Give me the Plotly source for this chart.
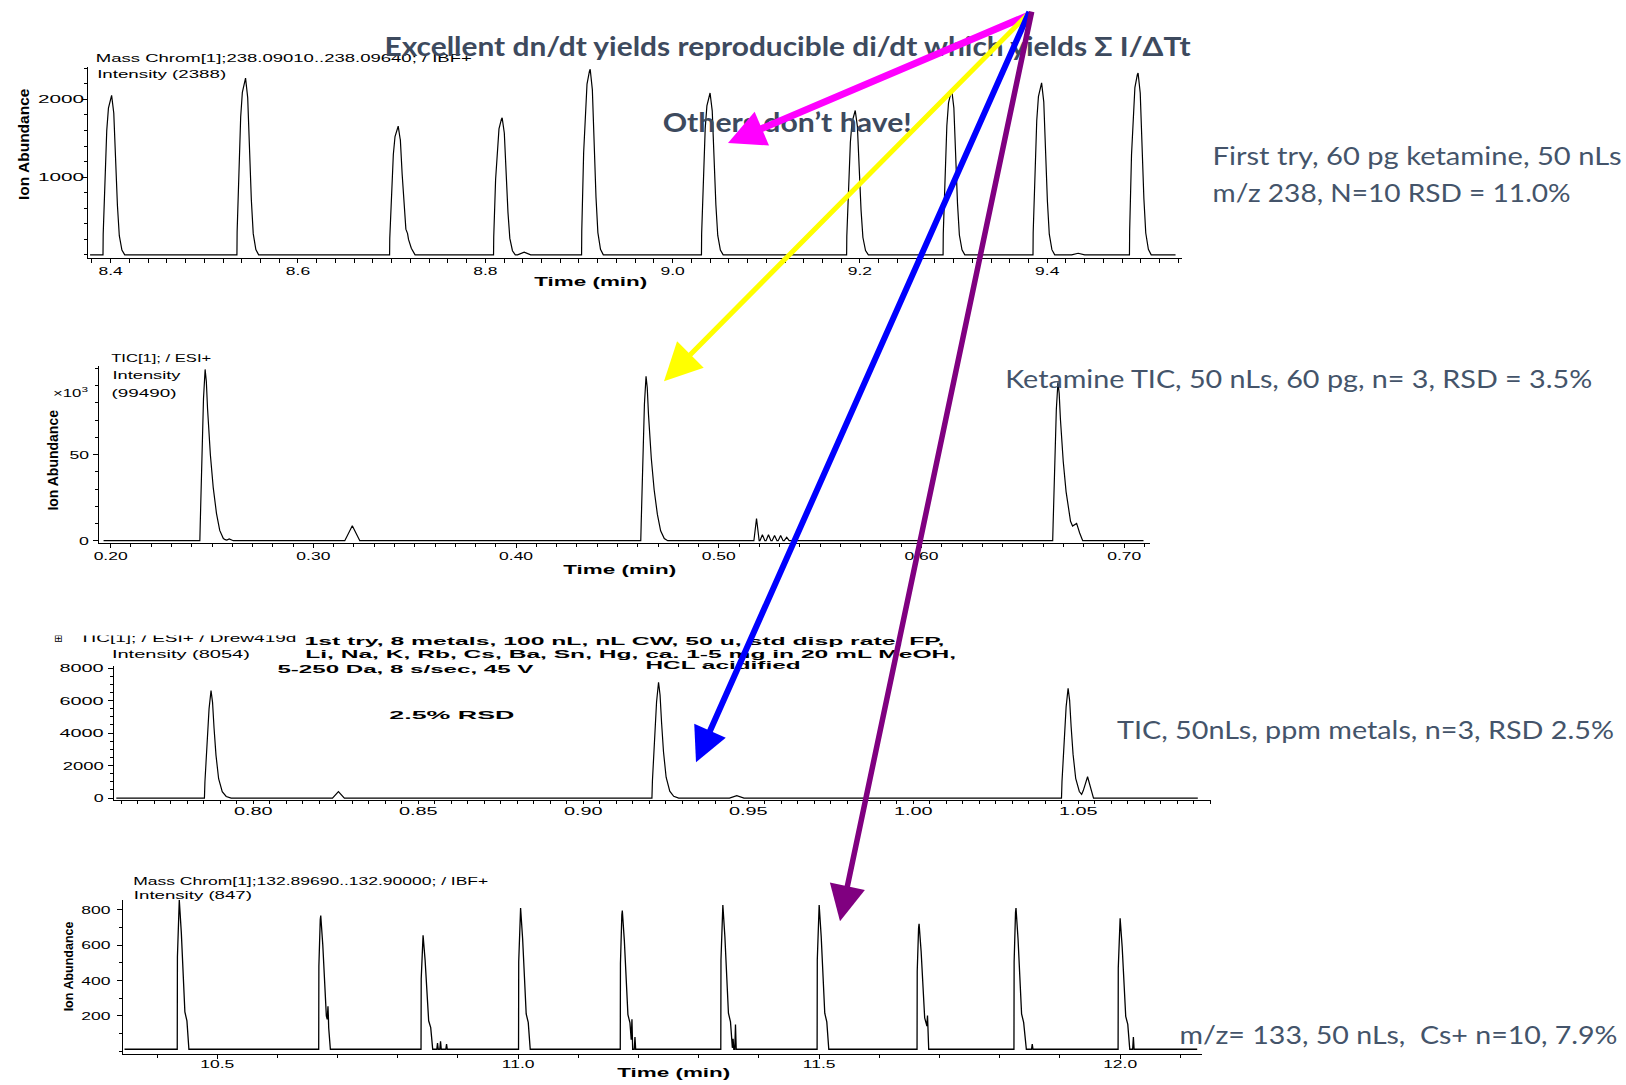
import json
import numpy as np
import plotly.graph_objects as go

W_PX, H_PX = 1626, 1085

# ------------------------------------------------------------------ data
# Panel 1 - Mass Chrom m/z 238 (ketamine), 10 injections
p1_peak_time = [8.401, 8.544, 8.707, 8.818, 8.912, 9.040, 9.195, 9.298, 9.394, 9.497]
p1_peak_height = [2051, 2273, 1655, 1762, 2388, 2082, 1857, 2125, 2212, 2340]
p1_shape_dt = [-0.0092, -0.0090, -0.0070, -0.0052, -0.0034, -0.0008, 0.0,
               0.0023, 0.0042, 0.0062, 0.0082, 0.0110, 0.0140]
p1_shape_frac = [0.0, 0.13, 0.55, 0.78, 0.92, 0.99, 1.0, 0.89, 0.60, 0.31, 0.12, 0.03, 0.0]
p1_bump_time = [8.717, 8.8415, 9.433]
p1_bump_height = [170, 35, 20]
p1_bump_halfwidth = [0.008, 0.007, 0.007]
p1_span = [8.378, 9.537]
p1_yticks = [1000, 2000]
p1_yticktext = ["1000\u200b", "2000\u200b"]

# Panel 2 - Ketamine TIC (x10^3)
p2_peak_time = [0.2466, 0.4641, 0.6673]
p2_peak_height = [99.49, 95.5, 92.0]
p2_shape_dt = [-0.0026, -0.0024, -0.0016, -0.0008, 0.0, 0.0006, 0.0012,
               0.0026, 0.0040, 0.0056, 0.0072, 0.0090, 0.0107]
p2_shape_frac = [0.0, 0.10, 0.55, 0.83, 1.0, 0.93, 0.77, 0.50, 0.31, 0.16, 0.06, 0.013, 0.0]
p2_bump_time = [0.2585, 0.3192, 0.5186, 0.5215, 0.5245, 0.5275, 0.5305, 0.5335, 0.6765]
p2_bump_height = [1.0, 8.65, 12.9, 3.5, 3.5, 3.0, 3.0, 2.0, 9.0]
p2_bump_halfwidth = [0.002, 0.0037, 0.0013, 0.0012, 0.0012, 0.0012, 0.0012, 0.0012, 0.003]
p2_span = [0.1965, 0.7095]
p2_yticks = [0, 50]

# Panel 3 - TIC, ppm metals
p3_peak_time = [0.7872, 0.9228, 1.0469]
p3_peak_height = [6614, 7127, 6760]
p3_shape_dt = [-0.0020, -0.00185, -0.0012, -0.0006, 0.0, 0.00046, 0.00092,
               0.0015, 0.0023, 0.0034, 0.0046, 0.0061]
p3_shape_frac = [0.0, 0.15, 0.49, 0.83, 1.0, 0.89, 0.65, 0.40, 0.18, 0.06, 0.015, 0.0]
p3_bump_time = [0.8258, 0.9465, 1.0528]
p3_bump_height = [400, 150, 1300]
p3_bump_halfwidth = [0.0018, 0.0022, 0.0018]
p3_span = [0.7585, 1.0862]
p3_yticks = [0, 2000, 4000, 6000, 8000]

# Panel 4 - Mass Chrom m/z 133 (Cs+), 10 injections
p4_peak_time = [10.437, 10.672, 10.842, 11.004, 11.173, 11.340, 11.500, 11.666, 11.827, 12.000]
p4_peak_height = [846, 758, 646, 801, 786, 818, 818, 711, 801, 743]
p4_shape_dt = [-0.0034, -0.0031, -0.0008, 0.0, 0.0034, 0.0068, 0.0093, 0.0127, 0.0160]
p4_shape_frac = [0.0, 0.62, 0.97, 1.0, 0.78, 0.44, 0.25, 0.19, 0.0]
p4_spike_time = [10.684, 10.866, 10.871, 10.881, 11.189, 11.194, 11.357, 11.361,
                 11.680, 11.843, 11.854, 12.022]
p4_spike_height = [90, 35, 45, 30, 170, 70, 60, 140, 110, 40, 30, 70]
p4_spike_halfwidth = [0.0012] * 12
p4_baseline = 10
p4_span = [10.346, 12.128]
p4_yticks = [200, 400, 600, 800]


def build_trace(span, peak_t, peak_h, shape_dt, shape_frac, bump_t, bump_h, bump_w, base=0.0):
    feats = []
    for t0, h0 in zip(peak_t, peak_h):
        feats.append((np.array(shape_dt) + t0, np.array(shape_frac) * h0))
    for tb, hb, wb in zip(bump_t, bump_h, bump_w):
        feats.append((np.array([tb - wb, tb, tb + wb]), np.array([0.0, hb, 0.0])))
    grid = np.unique(np.concatenate([np.array(span)] + [f[0] for f in feats]))
    grid = grid[(grid >= span[0]) & (grid <= span[1])]
    y = np.full(grid.shape, float(base))
    for ft, fh in feats:
        y += np.interp(grid, ft, fh, left=0.0, right=0.0)
    return grid, y


x1, y1 = build_trace(p1_span, p1_peak_time, p1_peak_height, p1_shape_dt, p1_shape_frac,
                     p1_bump_time, p1_bump_height, p1_bump_halfwidth)
x2, y2 = build_trace(p2_span, p2_peak_time, p2_peak_height, p2_shape_dt, p2_shape_frac,
                     p2_bump_time, p2_bump_height, p2_bump_halfwidth)
x3, y3 = build_trace(p3_span, p3_peak_time, p3_peak_height, p3_shape_dt, p3_shape_frac,
                     p3_bump_time, p3_bump_height, p3_bump_halfwidth)
x4, y4 = build_trace(p4_span, p4_peak_time, p4_peak_height, p4_shape_dt, p4_shape_frac,
                     p4_spike_time, p4_spike_height, p4_spike_halfwidth, base=p4_baseline)

# ------------------------------------------------------------------ figure
CH = "Liberation Sans"
SL = "Lato"
SLIDE_DARK = "#3D4A5E"
SLIDE_TEXT = "#44546A"


def fx(px):
    return px / W_PX


def fy(py):
    return 1 - py / H_PX


fig = go.Figure()
for i, (xx, yy, lw) in enumerate([(x1, y1, 1.2), (x2, y2, 1.2), (x3, y3, 1.2), (x4, y4, 1.3)]):
    sfx = "" if i == 0 else str(i + 1)
    fig.add_trace(go.Scatter(x=xx, y=yy, mode="lines", line=dict(color="black", width=lw),
                             xaxis="x" + sfx, yaxis="y" + sfx, hoverinfo="skip", showlegend=False))

tickfont = dict(family=CH, size=11.5, color="black")


def xaxis(dom_px, rng, dtick, minor_dtick, anchor, fmt, standoff, tl=5, mtl=4):
    return dict(domain=[fx(dom_px[0]), fx(dom_px[1])], range=rng, anchor=anchor,
                showline=True, linecolor="black", linewidth=1, ticks="outside", ticklen=tl,
                tickwidth=1, tickcolor="black", tickmode="linear", tick0=0, dtick=dtick,
                tickformat=fmt, showgrid=False, zeroline=False, tickfont=tickfont,
                ticklabelstandoff=standoff, fixedrange=True,
                minor=dict(tickmode="linear", tick0=0, dtick=minor_dtick, ticks="outside",
                           ticklen=mtl, tickcolor="black", showgrid=False))


def yaxis(dom_py, rng, tickvals, minor_dtick, anchor, standoff, ticktext=None, tl=5, mtl=3):
    d = dict(domain=[fy(dom_py[0]), fy(dom_py[1])], range=rng, anchor=anchor,
             showline=True, linecolor="black", linewidth=1, ticks="outside", ticklen=tl,
             tickwidth=1, tickcolor="black", tickmode="array", tickvals=tickvals,
             tickformat="d", showgrid=False, zeroline=False, tickfont=tickfont,
             ticklabelstandoff=standoff, fixedrange=True,
             minor=dict(tickmode="linear", tick0=0, dtick=minor_dtick, ticks="outside",
                        ticklen=mtl, tickcolor="black", showgrid=False))
    if ticktext is not None:
        d["ticktext"] = ticktext
    return d


fig.update_layout(
    width=W_PX, height=H_PX, autosize=False,
    margin=dict(l=0, r=0, t=0, b=0, pad=0),
    paper_bgcolor="white", plot_bgcolor="white",
    font=dict(family=CH, size=11.5, color="black"),
    showlegend=False,
    xaxis=xaxis([88.3, 1182], [8.3761, 9.5439], 0.2, 0.02, "y", ".1f", -2, 4, 4),
    yaxis=yaxis([255.7, 63], [-38.3, 2422.7], p1_yticks, 200, "x", -4, p1_yticktext),
    xaxis2=xaxis([99.3, 1150], [0.1944, 0.7127], 0.1, 0.01, "y2", ".2f", -1, 4, 3),
    yaxis2=yaxis([542.7, 365], [-1.15, 101.3], p2_yticks, 10, "x2", 2),
    xaxis3=xaxis([114, 1211], [0.7578, 1.0902], 0.05, 0.005, "y3", ".2f", -3, 3, 3),
    yaxis3=yaxis([801.7, 666.7], [-104, 8140], p3_yticks, 500, "x3", 2),
    xaxis4=xaxis([122.7, 1202], [10.343, 12.136], 0.5, 0.1, "y4", ".1f", -4, 4, 3),
    yaxis4=yaxis([1057.3, 902.7], [-14, 856], p4_yticks, 100, "x4", 4),
)


def label(text, cx, cy, size, family=CH, bold=False, color="black", angle=0):
    return dict(text=text, x=fx(cx), y=fy(cy), xref="paper", yref="paper",
                xanchor="center", yanchor="middle", showarrow=False, textangle=angle,
                borderpad=0, font=dict(family=family, size=size, color=color,
                                        weight="bold" if bold else "normal"))


# texts: (text, centre x, centre y, size, family, bold, colour, angle, target width px)
texts = [
    ("Mass Chrom[1];238.09010..238.09640; / IBF+", 284, 54.7, 11.5, CH, False, "black", 0, 376),
    ("Intensity (2388)", 161, 70.5, 11.5, CH, False, "black", 0, 129),
    ("Ion Abundance", 24, 141, 15.5, CH, True, "black", -90, None),
    ("Time (min)", 591, 280, 13, CH, True, "black", 0, 113),
    ("TIC[1]; / ESI+", 161, 357, 11, CH, False, "black", 0, 100),
    ("Intensity", 146, 374, 11, CH, False, "black", 0, 68),
    ("(99490)", 143.5, 392, 11, CH, False, "black", 0, 65),
    ("×10<sup>3</sup>", 70, 391, 11, CH, False, "black", 0, None),
    ("Ion Abundance", 53, 460, 14, CH, True, "black", -90, None),
    ("Time (min)", 620, 570, 13, CH, True, "black", 0, 113),
    ("⊞", 58, 639, 10, "DejaVu Sans", False, "black", 0, None),
    ("TIC[1]; / ESI+ / Drew419d", 187.5, 639, 11, CH, False, "black", 0, 217),
    ("Intensity (8054)", 181, 654.7, 11, CH, False, "black", 0, 138),
    ("1st try, 8 metals, 100 nL, nL CW, 50 u, std disp rate, FP,", 624, 642, 11, CH, True, "black", 0, 640),
    ("Li, Na, K, Rb, Cs, Ba, Sn, Hg, ca. 1-5 mg in 20 mL MeOH,", 630, 654.5, 11, CH, True, "black", 0, 651),
    ("HCL acidified", 722.5, 666, 11, CH, True, "black", 0, 155),
    ("5-250 Da, 8 s/sec, 45 V", 405, 670, 11, CH, True, "black", 0, 256),
    ("2.5% RSD", 451.5, 716.7, 11.5, CH, True, "black", 0, 125),
    ("Mass Chrom[1];132.89690..132.90000; / IBF+", 311, 883.5, 11, CH, False, "black", 0, 355),
    ("Intensity (847)", 192.5, 897.5, 11, CH, False, "black", 0, 118),
    ("Ion Abundance", 69, 969.5, 12.5, CH, True, "black", -90, None),
    ("Time (min)", 673.5, 1076, 13, CH, True, "black", 0, 113),
    ("First try, 60 pg ketamine, 50 nLs", 1416.5, 152, 25.5, SL, False, SLIDE_TEXT, 0, 409),
    ("m/z 238, N=10 RSD = 11.0%", 1391, 189, 25.5, SL, False, SLIDE_TEXT, 0, 358),
    ("Ketamine TIC, 50 nLs, 60 pg, n= 3, RSD = 3.5%", 1298, 377, 25.5, SL, False, SLIDE_TEXT, 0, 587),
    ("TIC, 50nLs, ppm metals, n=3, RSD 2.5%", 1365.5, 730, 25.5, SL, False, SLIDE_TEXT, 0, 497),
    ("m/z= 133, 50 nLs,  Cs+ n=10, 7.9%", 1398.4, 1037.5, 25.5, SL, False, SLIDE_TEXT, 0, 438),
    ("Excellent dn/dt yields reproducible di/dt which yields Σ I/ΔTt", 787.5, 42, 26.5, SL, True, SLIDE_DARK, 0, 806),
    ("Others don’t have!", 786.5, 119, 26.5, SL, True, SLIDE_DARK, 0, 249),
]

annotations = []
targets = {}
for (t, cx, cy, sz, fam, b, col, ang, tw) in texts:
    annotations.append(label(t, cx, cy, sz, fam, b, col, ang))
    if tw is not None:
        targets[t] = tw
    if t == "TIC[1]; / ESI+ / Drew419d":
        # white band hiding the clipped top of the panel-3 header
        annotations.append(dict(text=" ", x=fx(40), y=fy(636.5), xref="paper", yref="paper",
                                xanchor="left", yanchor="bottom", showarrow=False,
                                width=262, height=14, bgcolor="white", borderpad=0,
                                font=dict(size=6)))

# arrows: tail (start) and head (tip) in pixels
arrows = [
    ((1029, 12), (728, 140), "#FF00FF", 7, 1.05),
    ((1029, 12), (664, 380), "#FFFF00", 5, 1.5),
    ((1030, 12), (696, 764), "#0000FF", 6, 1.15),
    ((1032, 13), (840, 924), "#800080", 5.5, 1.3),
]
for (sx, sy), (hx, hy), col, w, s in arrows:
    annotations.append(dict(text="", x=fx(hx), y=fy(hy), xref="paper", yref="paper",
                            showarrow=True, ax=sx - hx, ay=sy - hy, axref="pixel", ayref="pixel",
                            arrowhead=2, arrowsize=s, arrowwidth=w, arrowcolor=col,
                            standoff=0, startstandoff=0))

fig.update_layout(annotations=annotations)

factors = {"Ion Abundance": 1.0, "×103": 1.0, "⊞": 1.0,
           "0.80": 1.73, "0.85": 1.73, "0.90": 1.73, "0.95": 1.73, "1.00": 1.73, "1.05": 1.73,
           "2000": 1.6, "4000": 1.73, "6000": 1.73, "8000": 1.73, "0": 1.55,
           "1000\u200b": 1.8, "2000\u200b": 1.8}

post = """
(function(){
document.documentElement.style.margin='0';
document.body.style.margin='0';
document.body.style.overflow='hidden';
var W = %s, F = %s, D = 1.52;
var gd = document.getElementById('{plot_id}');
if (!gd) return;
gd.querySelectorAll('text').forEach(function(t){
  if (t.getAttribute('data-st')) return;
  var s = t.textContent;
  if (!s || !s.trim()) return;
  var ff = (t.style.fontFamily || '');
  var w = t.getComputedTextLength();
  if (!w) return;
  var target = null;
  if (W.hasOwnProperty(s)) target = W[s];
  else if (F.hasOwnProperty(s)) target = w * F[s];
  else if (ff.indexOf('Liberation') >= 0) target = w * D;
  if (target === null || Math.abs(target - w) < 0.5) return;
  t.setAttribute('textLength', target.toFixed(1));
  t.setAttribute('lengthAdjust', 'spacingAndGlyphs');
  t.setAttribute('data-st', '1');
});
})();
""" % (json.dumps(targets, ensure_ascii=False), json.dumps(factors, ensure_ascii=False))

fig.write_html("out.html", config={"displayModeBar": False, "staticPlot": True},
               post_script=post)
